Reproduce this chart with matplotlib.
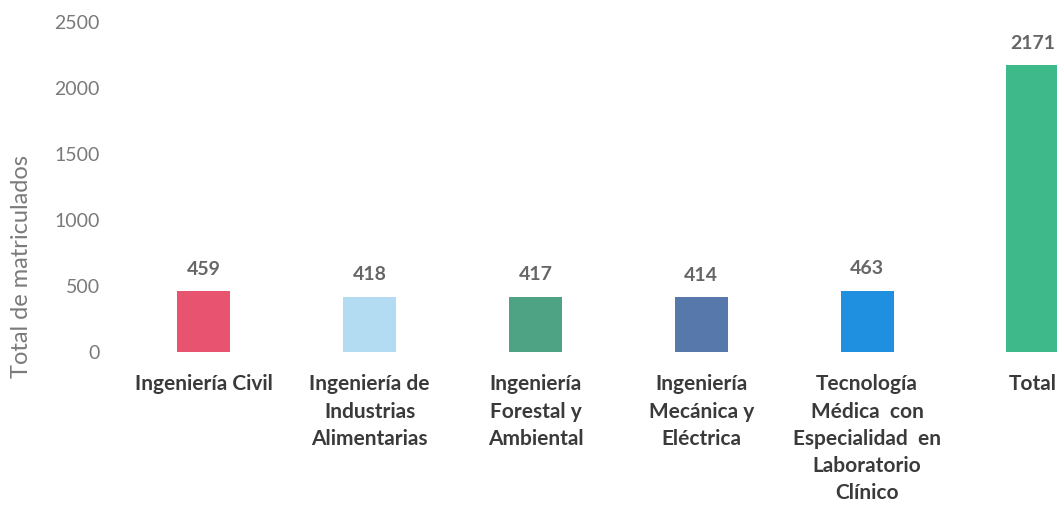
import matplotlib
matplotlib.use('Agg')
import matplotlib.pyplot as plt

plt.rcParams['font.family'] = ['Lato', 'DejaVu Sans']

categorias = ['Ingeniería Civil', 'Ingeniería de\nIndustrias\nAlimentarias',
              'Ingeniería\nForestal y\nAmbiental', 'Ingeniería\nMecánica y\nEléctrica',
              'Tecnología\nMédica  con\nEspecialidad  en\nLaboratorio\nClínico', 'Total']
matriculados = [459, 418, 417, 414, 463, 2171]
colores = ['#E8546F', '#B3DBF2', '#4DA384', '#5778AA', '#1F90E0', '#3DB98A']
yticks = [0, 500, 1000, 1500, 2000, 2500]

fig = plt.figure(figsize=(10.57, 5.11), dpi=100)
ax = fig.add_axes([0.105, 0.311, 0.895, 0.646])

x = range(len(categorias))
bars = ax.bar(x, matriculados, width=0.32, color=colores)

for b, v in zip(bars, matriculados):
    ax.annotate(str(v), (b.get_x() + b.get_width() / 2, v), xytext=(0, 10),
                textcoords='offset points', ha='center', va='bottom',
                fontsize=14, fontweight='bold', color='#666666')

ax.set_xlim(-0.56, 5.145)
ax.set_ylim(0, 2500)
ax.set_yticks(yticks)
ax.set_yticklabels([str(t) for t in yticks], fontsize=14, color='#7a7a7a')
ax.set_xticks(list(x))
ax.set_xticklabels(categorias, fontsize=15, fontweight='bold', color='#3a3a3a',
                   va='top', linespacing=1.45)
ax.tick_params(axis='both', length=0)
ax.tick_params(axis='x', pad=16)
ax.tick_params(axis='y', pad=8)
for s in ax.spines.values():
    s.set_visible(False)

ax.set_ylabel('Total de matriculados', fontsize=17, color='#7a7a7a')
ax.yaxis.set_label_coords(-0.084, 0.258)

plt.savefig('out.png', dpi=100)
